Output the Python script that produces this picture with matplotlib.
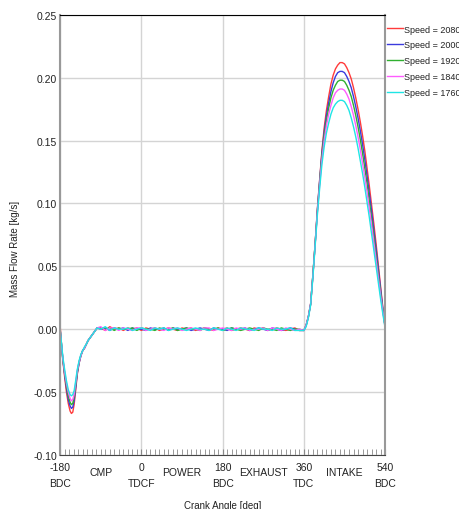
import numpy as np
import matplotlib
matplotlib.use("Agg")
import matplotlib.pyplot as plt

plt.rcParams['font.family'] = ['Liberation Sans Narrow', 'Liberation Sans', 'DejaVu Sans']

# Mass flow rate vs crank angle
speeds = ["Speed = 2080", "Speed = 2000", "Speed = 1920", "Speed = 1840", "Speed = 1760"]
colors = ["#ff3b3b", "#3b3bdd", "#2fb02f", "#ff5cff", "#1fe5e5"]

# compression part
comp_angle = [-180, -177, -174, -170, -166, -162, -158, -155, -152, -149, -146, -142,
              -138, -134, -130, -126, -122, -118, -114, -110, -106, -102, -98]
comp_2080 = [0.003, -0.012, -0.025, -0.038, -0.050, -0.059, -0.065, -0.067, -0.066, -0.060, -0.050, -0.036,
             -0.027, -0.021, -0.017, -0.015, -0.012, -0.009, -0.007, -0.005, -0.003, -0.001, 0.001]
comp_2000 = [0.000, -0.012, -0.024, -0.036, -0.047, -0.056, -0.061, -0.063, -0.062, -0.057, -0.048, -0.035,
             -0.027, -0.021, -0.017, -0.015, -0.012, -0.009, -0.007, -0.005, -0.003, -0.001, 0.001]
comp_1920 = [0.000, -0.012, -0.024, -0.035, -0.045, -0.053, -0.058, -0.060, -0.059, -0.054, -0.046, -0.034,
             -0.026, -0.021, -0.017, -0.015, -0.012, -0.009, -0.007, -0.005, -0.003, -0.001, 0.001]
comp_1840 = [0.000, -0.012, -0.023, -0.034, -0.043, -0.050, -0.055, -0.057, -0.056, -0.052, -0.044, -0.033,
             -0.026, -0.021, -0.017, -0.015, -0.012, -0.009, -0.007, -0.005, -0.003, -0.001, 0.001]
comp_1760 = [0.000, -0.011, -0.022, -0.032, -0.041, -0.048, -0.052, -0.053, -0.052, -0.049, -0.042, -0.032,
             -0.025, -0.020, -0.017, -0.014, -0.012, -0.009, -0.007, -0.005, -0.003, -0.001, 0.001]

# flat part (power / exhaust), small ripple around zero
flat_angle = list(range(-90, 360, 10))
flat_2080 = [0.001, -0.001, 0.002, 0.000, 0.001, -0.001, 0.001, 0.000, 0.001, -0.001, 0.001, 0.000, 0.001, -0.001, 0.000,
             0.001, 0.000, -0.001, 0.001, 0.000, 0.001, -0.001, 0.000, 0.001, 0.000, -0.001, 0.001, 0.000, 0.001, -0.001,
             0.000, 0.001, 0.000, -0.001, 0.001, 0.000, 0.001, -0.001, 0.000, 0.001, 0.000, -0.001, 0.000, 0.001, -0.001]
flat_2000 = [0.000, 0.001, -0.001, 0.001, 0.000, 0.001, -0.001, 0.001, 0.000, 0.000, -0.001, 0.001, 0.000, 0.000, 0.001,
             -0.001, 0.001, 0.000, 0.000, 0.001, -0.001, 0.000, 0.001, 0.000, -0.001, 0.001, 0.000, 0.000, -0.001, 0.001,
             0.000, 0.000, 0.001, -0.001, 0.000, 0.001, 0.000, -0.001, 0.001, 0.000, -0.001, 0.000, 0.001, 0.000, -0.001]
flat_1920 = [0.001, 0.000, 0.001, -0.001, 0.001, 0.000, 0.000, 0.001, -0.001, 0.001, 0.000, 0.000, -0.001, 0.001, 0.000,
             0.000, 0.001, -0.001, 0.000, 0.001, 0.000, 0.000, -0.001, 0.001, 0.000, 0.000, 0.001, -0.001, 0.000, 0.001,
             0.000, -0.001, 0.000, 0.001, 0.000, -0.001, 0.001, 0.000, 0.000, -0.001, 0.001, 0.000, -0.001, 0.000, 0.000]
flat_1840 = [0.002, -0.001, 0.001, 0.001, -0.001, 0.001, 0.000, -0.001, 0.001, 0.001, -0.001, 0.000, 0.001, 0.000, -0.001,
             0.001, 0.000, 0.001, -0.001, 0.000, 0.001, 0.000, -0.001, 0.001, 0.001, -0.001, 0.000, 0.001, 0.000, -0.001,
             0.001, 0.000, 0.001, -0.001, 0.000, 0.000, 0.001, -0.001, 0.001, 0.000, -0.001, 0.001, 0.000, -0.001, 0.000]
flat_1760 = [0.000, 0.002, -0.001, 0.001, 0.000, 0.000, 0.001, -0.001, 0.000, 0.001, 0.000, -0.001, 0.001, 0.000, 0.001,
             -0.001, 0.000, 0.001, 0.000, -0.001, 0.000, 0.001, 0.000, 0.000, -0.001, 0.001, 0.000, -0.001, 0.001, 0.000,
             -0.001, 0.001, 0.000, 0.000, -0.001, 0.001, 0.000, 0.000, -0.001, 0.001, 0.000, 0.000, 0.001, -0.001, -0.001]

# intake part
intake_angle = [360, 365, 370, 375, 380, 385, 390, 395, 400, 405, 410, 415, 420, 425, 430, 435, 440, 445, 450,
                455, 460, 465, 470, 475, 480, 485, 490, 495, 500, 505, 510, 515, 520, 525, 530, 535, 540]
intake_2080 = [-0.001, 0.003, 0.010, 0.020, 0.043, 0.068, 0.096, 0.119, 0.142, 0.160, 0.174, 0.185, 0.195, 0.202, 0.207,
               0.210, 0.212, 0.212, 0.211, 0.208, 0.204, 0.199, 0.192, 0.184, 0.175, 0.165, 0.154, 0.142, 0.128, 0.114,
               0.099, 0.084, 0.068, 0.051, 0.034, 0.017, 0.002]
intake_2000 = [-0.001, 0.003, 0.010, 0.020, 0.043, 0.068, 0.095, 0.118, 0.140, 0.157, 0.170, 0.180, 0.189, 0.196, 0.201,
               0.204, 0.205, 0.205, 0.204, 0.201, 0.197, 0.192, 0.185, 0.177, 0.168, 0.158, 0.147, 0.135, 0.122, 0.108,
               0.094, 0.079, 0.064, 0.048, 0.032, 0.016, 0.002]
intake_1920 = [-0.001, 0.003, 0.010, 0.020, 0.043, 0.068, 0.094, 0.117, 0.138, 0.154, 0.166, 0.176, 0.184, 0.190, 0.194,
               0.197, 0.198, 0.198, 0.197, 0.194, 0.190, 0.185, 0.178, 0.170, 0.161, 0.151, 0.140, 0.128, 0.116, 0.102,
               0.088, 0.074, 0.059, 0.044, 0.029, 0.015, 0.002]
intake_1840 = [-0.001, 0.003, 0.010, 0.020, 0.042, 0.067, 0.093, 0.115, 0.135, 0.150, 0.162, 0.171, 0.178, 0.184, 0.188,
               0.190, 0.191, 0.191, 0.190, 0.187, 0.183, 0.177, 0.170, 0.162, 0.153, 0.143, 0.132, 0.121, 0.109, 0.096,
               0.083, 0.069, 0.055, 0.041, 0.027, 0.014, 0.002]
intake_1760 = [-0.001, 0.002, 0.009, 0.019, 0.041, 0.066, 0.091, 0.112, 0.131, 0.145, 0.156, 0.164, 0.171, 0.176, 0.179,
               0.181, 0.182, 0.182, 0.181, 0.178, 0.174, 0.168, 0.161, 0.153, 0.144, 0.134, 0.124, 0.113, 0.101, 0.089,
               0.076, 0.063, 0.050, 0.037, 0.024, 0.012, 0.001]

comp = [comp_2080, comp_2000, comp_1920, comp_1840, comp_1760]
flat = [flat_2080, flat_2000, flat_1920, flat_1840, flat_1760]
intake = [intake_2080, intake_2000, intake_1920, intake_1840, intake_1760]

major_ticks = [-180, 0, 180, 360, 540]
major_labels = ["-180\nBDC", "0\nTDCF", "180\nBDC", "360\nTDC", "540\nBDC"]
stroke_pos = [-90, 90, 270, 450]
stroke_names = ["CMP", "POWER", "EXHAUST", "INTAKE"]

fig = plt.figure(figsize=(4.59, 5.10), dpi=100)
ax = fig.add_axes([0.131, 0.106, 0.708, 0.863])

angle = comp_angle + flat_angle + intake_angle
for i in range(len(speeds)):
    vals = comp[i] + flat[i] + intake[i]
    ax.plot(angle, vals, color=colors[i], lw=1.0, label=speeds[i])

ax.set_xlim(-180, 540)
ax.set_ylim(-0.10, 0.25)
ax.set_yticks(np.arange(-0.10, 0.2501, 0.05))
ax.set_yticklabels(["%.2f" % v for v in np.arange(-0.10, 0.2501, 0.05)])
ax.set_xticks(major_ticks)
ax.set_xticklabels(major_labels, linespacing=1.75)
ax.set_xticks(np.arange(-180, 541, 10), minor=True)
ax.tick_params(axis='x', which='both', direction='in', length=4, color='#888888', labelsize=7.5, pad=5, labelcolor='#222222')
ax.tick_params(axis='y', which='both', length=0, labelsize=7.5, pad=2, labelcolor='#222222')
ax.grid(True, color='#d4d4d4', lw=1.0)
ax.set_axisbelow(True)

for p, n in zip(stroke_pos, stroke_names):
    ax.text(p, -0.028, n, transform=ax.get_xaxis_transform(), ha='center', va='top', fontsize=7.5, color='#222222')

for s in ['left', 'right']:
    ax.spines[s].set_color('#999999')
    ax.spines[s].set_linewidth(1.5)
ax.spines['top'].set_color('black')
ax.spines['bottom'].set_color('#444444')

ax.set_ylabel("Mass Flow Rate [kg/s]", fontsize=7, color='#222222')
ax.yaxis.set_label_coords(-0.125, 0.47)
fig.text(0.485, 0.018, "Crank Angle [deg]", ha='center', va='top', fontsize=7, color='#222222')

leg = ax.legend(loc='upper left', bbox_to_anchor=(0.99, 0.99), frameon=False, fontsize=6.5,
                handlelength=1.7, handletextpad=0.15, labelspacing=0.75, borderaxespad=0.2)
for t in leg.get_texts():
    t.set_color('#222222')

fig.savefig("out.png", dpi=100)
